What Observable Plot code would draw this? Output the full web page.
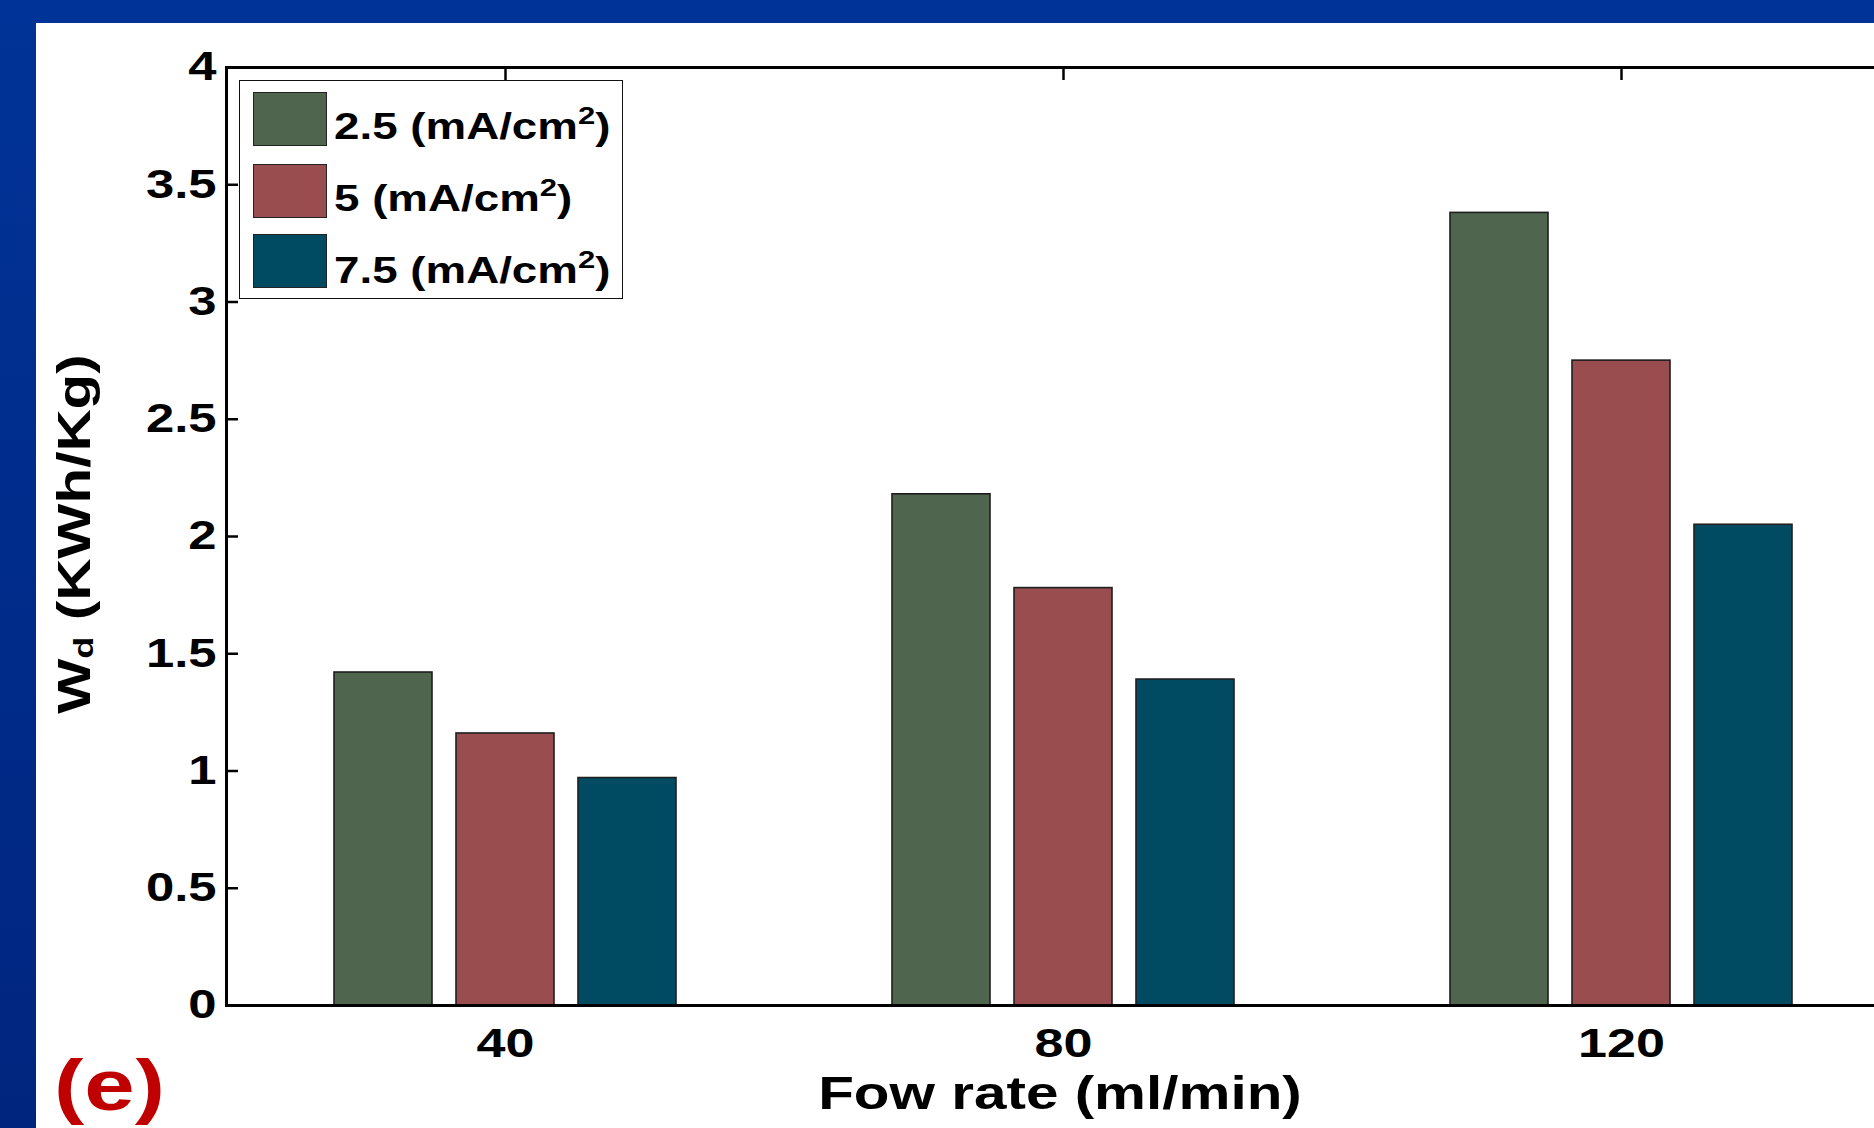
<!DOCTYPE html>
<html>
<head>
<meta charset="utf-8">
<script src="https://cdn.jsdelivr.net/npm/d3@7"></script>
<script src="https://cdn.jsdelivr.net/npm/@observablehq/plot@0.6"></script>
<style>
  html, body { margin: 0; padding: 0; width: 1874px; height: 1128px; overflow: hidden; }
  body { background: linear-gradient(to bottom, #003397, #00257f); position: relative; font-family: "Liberation Sans", Arial, sans-serif; font-weight: bold; }
  #panel { position: absolute; left: 36px; top: 23px; width: 1900px; height: 1200px; background: #fff; overflow: hidden; }
  #chart { position: absolute; left: 0; top: 0; width: 1880px; }
  #chart svg { max-width: none; }
  #legend { position: absolute; left: 203px; top: 57px; width: 382px; height: 217px; border: 1.5px solid #111; background: #fff; }
  .sw { position: absolute; left: 13px; width: 74px; height: 54px; border: 1.5px solid #222; box-sizing: border-box; }
  .lab { position: absolute; left: 94px; font-size: 36px; line-height: 1; white-space: nowrap; transform: scaleX(1.27); transform-origin: left center; color: #000; }
  .lab sup { font-size: 0.68em; vertical-align: 0.62em; line-height: 0; }
  #ytitle { position: absolute; left: 38px; top: 488px; font-size: 46px; line-height: 1; white-space: nowrap; transform: translate(-50%, 0) rotate(-90deg) scaleX(1.27); transform-origin: center center; color: #000; }
  #ytitle sub { font-size: 0.62em; vertical-align: -0.1em; line-height: 0; }
  #xtitle { position: absolute; left: 1024px; top: 1047px; font-size: 46px; line-height: 1; white-space: nowrap; transform: translateX(-50%) scaleX(1.27); transform-origin: center center; color: #000; }
  #tagclip { position: absolute; left: 36px; top: 1058px; width: 200px; height: 80px; overflow: hidden; }
  #tag { position: absolute; left: 18px; top: -9px; font-size: 72px; line-height: 1; color: #c00000; white-space: nowrap; transform: scaleX(1.26); transform-origin: left center; }
</style>
</head>
<body>
<div id="panel">
  <div id="chart"></div>
  <div id="legend"></div>
  <div id="ytitle">W<sub>d</sub> (KWh/Kg)</div>
  <div id="xtitle">Fow rate (ml/min)</div>
</div>
<div id="tagclip"><div id="tag">(e)</div></div>
<script>
// ---- data ----
const flows = [40, 80, 120];
const seriesKeys = ["2.5", "5", "7.5"];
const seriesLabels = ["2.5 (mA/cm", "5 (mA/cm", "7.5 (mA/cm"];
const values25 = [1.42, 2.18, 3.38];
const values5 = [1.16, 1.78, 2.75];
const values75 = [0.97, 1.39, 2.05];
const seriesColors = ["#4f654e", "#9a4d4e", "#014b62"];
const yTicks = [0, 0.5, 1, 1.5, 2, 2.5, 3, 3.5, 4];
const yTickLabels = ["0", "0.5", "1", "1.5", "2", "2.5", "3", "3.5", "4"];
const xTickLabels = ["40", "80", "120"];

const seriesValues = [values25, values5, values75];
const rows = flows.flatMap((f, i) =>
  seriesKeys.map((s, j) => ({flow: f, series: s, value: seriesValues[j][i]}))
);

const chart = Plot.plot({
  width: 1880,
  height: 1105,
  marginLeft: 189,
  marginRight: 16,
  marginTop: 44,
  marginBottom: 123,
  style: {background: "transparent", fontFamily: "'Liberation Sans', Arial, sans-serif", fontWeight: "bold", fontSize: "40px", color: "#000", overflow: "visible"},
  fx: {domain: flows, padding: 0, label: null},
  x: {domain: seriesKeys, paddingInner: 0.195, paddingOuter: 0.868, axis: null},
  y: {domain: [0, 4], label: null},
  color: {domain: seriesKeys, range: seriesColors},
  marks: [
    Plot.barY(rows, {fx: "flow", x: "series", y: "value", fill: "series", stroke: "#1e1e1e", strokeWidth: 1.6}),
    Plot.ruleY([0, 4], {stroke: "#000", strokeWidth: 3}),
    Plot.frame({anchor: "left", facetAnchor: "left", stroke: "#000", strokeWidth: 3}),
    Plot.axisY(yTicks, {anchor: "left", tickSize: -12, tickPadding: 22, strokeWidth: 2.5, fontSize: 40, label: null,
      tickFormat: (d) => yTickLabels[yTicks.indexOf(d)]}),
    Plot.axisFx({anchor: "bottom", tickSize: 0, tickPadding: 22, fontSize: 41, label: null,
      tickFormat: (d) => xTickLabels[flows.indexOf(d)]}),
    Plot.axisFx({anchor: "top", tickSize: -12, strokeWidth: 2.5, label: null, tickFormat: () => ""})
  ]
});

// widen glyphs horizontally, like the reference's wide bold face
d3.select(chart).selectAll("text").each(function () {
  const t = this.getAttribute("transform");
  this.setAttribute("transform", (t ? t + " " : "") + "scale(1.27,1)");
});
document.getElementById("chart").appendChild(chart);

// legend
const legend = document.getElementById("legend");
const swTops = [11, 83, 153];
const labTops = [27.5, 99.5, 171.5];
seriesKeys.forEach((k, i) => {
  const sw = document.createElement("div");
  sw.className = "sw";
  sw.style.top = swTops[i] + "px";
  sw.style.background = seriesColors[i];
  legend.appendChild(sw);
  const lab = document.createElement("div");
  lab.className = "lab";
  lab.style.top = labTops[i] + "px";
  lab.innerHTML = seriesLabels[i] + "<sup>2</sup>)";
  legend.appendChild(lab);
});
</script>
</body>
</html>
